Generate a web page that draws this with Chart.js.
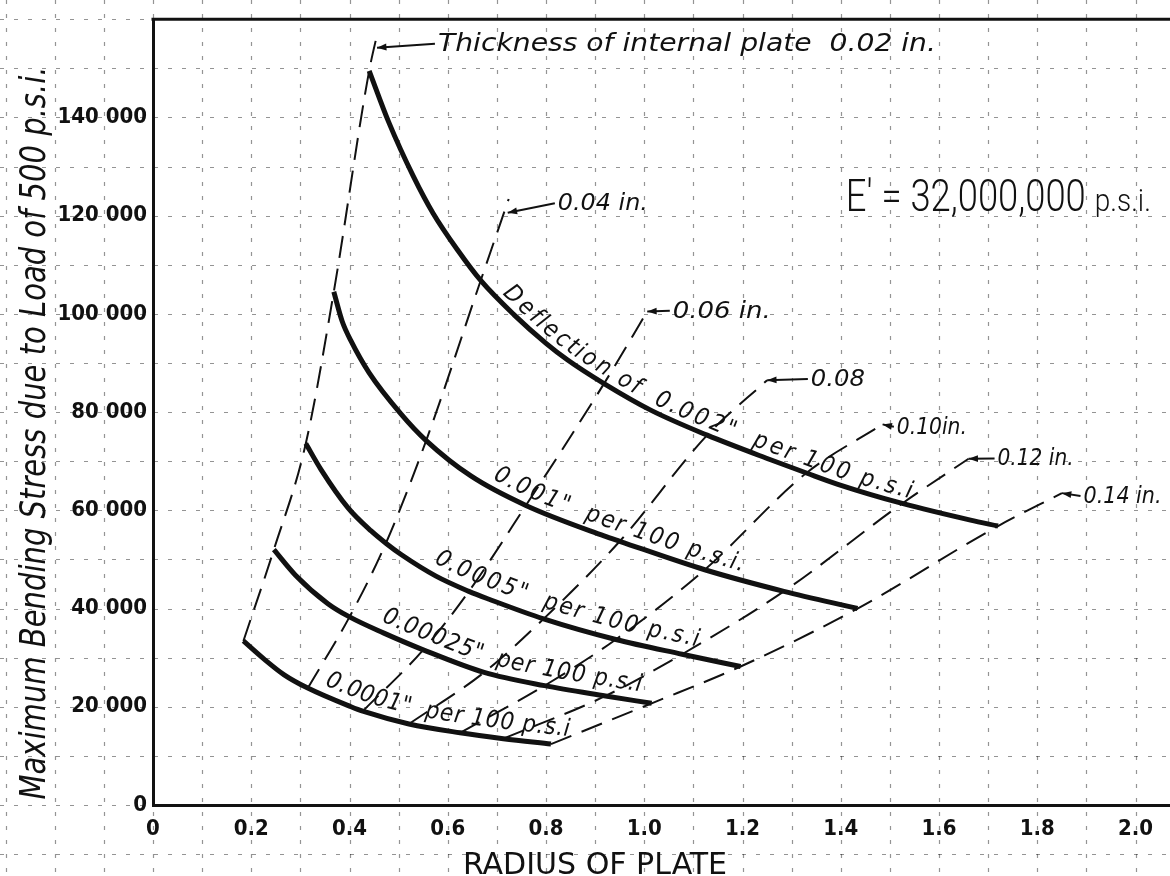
<!DOCTYPE html>
<html>
<head>
<meta charset="utf-8">
<script src="https://cdn.jsdelivr.net/npm/chart.js@4.4.0/dist/chart.umd.min.js"></script>
<style>
    html, body { margin: 0; padding: 0; background: #fff; }
    #wrap { width: 1170px; height: 876px; }
</style>
</head>
<body>
<div id="wrap"><canvas id="stressChart" width="1170" height="876"></canvas></div>
<script>
// axis ticks
var xTicks = [0, 0.2, 0.4, 0.6, 0.8, 1.0, 1.2, 1.4, 1.6, 1.8, 2.0];
var xTickLabels = ['0', '0.2', '0.4', '0.6', '0.8', '1.0', '1.2', '1.4', '1.6', '1.8', '2.0'];
var yTicks = [0, 20000, 40000, 60000, 80000, 100000, 120000, 140000];
var yTickLabels = ['0', '20 000', '40 000', '60 000', '80 000', '100 000', '120 000', '140 000'];
var xMax = 2.07;
var yMax = 160000;

// curves of constant deflection: [radius of plate, max bending stress]
var defl002 = [[0.44, 149500], [0.48, 139000], [0.53, 128000], [0.57, 120500], [0.62, 113000], [0.667, 106800],
    [0.735, 99800], [0.80, 94000], [0.844, 90600], [0.918, 85800], [1.013, 80400], [1.128, 75300], [1.257, 70300],
    [1.33, 67600], [1.394, 65300], [1.525, 61400], [1.664, 58000], [1.72, 56800]];
var defl001 = [[0.368, 104500], [0.385, 98500], [0.403, 94500], [0.44, 88000], [0.505, 79600], [0.556, 74200],
    [0.647, 67000], [0.759, 61000], [0.918, 54800], [0.95, 53700], [1.123, 47900], [1.284, 43500], [1.434, 40000]];
var defl0005 = [[0.311, 73600], [0.342, 68300], [0.397, 60500], [0.444, 55800], [0.474, 53300], [0.505, 51000],
    [0.576, 46600], [0.643, 43500], [0.684, 41900], [0.795, 37900], [0.942, 33700], [1.077, 30700], [1.196, 28200]];
var defl00025 = [[0.246, 52000], [0.29, 46800], [0.356, 41000], [0.40, 38300], [0.47, 35000], [0.55, 31600],
    [0.674, 27000], [0.797, 24300], [0.921, 22200], [1.015, 20700]];
var defl0001 = [[0.184, 33400], [0.225, 29800], [0.267, 26500], [0.315, 23800], [0.403, 20000], [0.427, 19100],
    [0.521, 16500], [0.625, 14700], [0.713, 13500], [0.81, 12400]];

// lines of constant plate thickness (last point = leader end above the top curve)
var thick002 = [[0.184, 33400], [0.246, 52000], [0.311, 73600], [0.368, 104500], [0.44, 149500], [0.458, 157700]];
var thick004 = [[0.315, 23800], [0.40, 38300], [0.474, 53300], [0.556, 74200], [0.667, 106800], [0.724, 123400]];
var thick006 = [[0.427, 19100], [0.55, 31600], [0.643, 43500], [0.759, 61000], [0.918, 85800], [1.006, 100500]];
var thick008 = [[0.521, 16500], [0.674, 27000], [0.795, 37900], [0.95, 53700], [1.128, 75300], [1.25, 86500]];
var thick010 = [[0.625, 14700], [0.797, 24300], [0.942, 33700], [1.123, 47900], [1.33, 67600], [1.485, 77500]];
var thick012 = [[0.713, 13500], [0.921, 22200], [1.077, 30700], [1.284, 43500], [1.525, 61400], [1.66, 70500]];
var thick014 = [[0.81, 12400], [1.015, 20700], [1.196, 28200], [1.434, 40000], [1.72, 56800], [1.85, 63500]];

var curveLabels = ['Deflection of  0.002"  per 100 p.s.i', '0.001"  per 100 p.s.i.', '0.0005"  per 100 p.s.i',
    '0.00025"  per 100 p.s.i', '0.0001"  per 100 p.s.i'];
var thickLabels = ['Thickness of internal plate  0.02 in.', '0.04 in.', '0.06 in.', '0.08', '0.10in.', '0.12 in.', '0.14 in.'];

// where the labels sit: curve text [from x, to x, gap above curve px]
var curveLabelPlace = [[0.698, 1.54, 7], [0.68, 1.196, 9], [0.558, 1.105, 11], [0.455, 0.99, 10], [0.34, 0.845, 10]];
// thickness labels [x, y baseline, width px, arrow x, arrow y]
var thickLabelPlace = [
    [0.58, 153600, 498, 0.456, 154200],
    [0.824, 121100, 90, 0.722, 120600],
    [1.058, 99200, 98, 1.006, 100500],
    [1.339, 85300, 54, 1.25, 86500],
    [1.514, 75600, 70, 1.485, 77500],
    [1.719, 69150, 76, 1.66, 70500],
    [1.894, 61500, 78, 1.85, 63500]
];

var LETTER = '"DejaVu Sans Condensed", "DejaVu Sans", sans-serif';
var NARROW = '"Liberation Sans Narrow", "DejaVu Sans Condensed", sans-serif';

function toXY(arr) {
    return arr.map(function(p) { return {x: p[0], y: p[1]}; });
}

var curves = [defl002, defl001, defl0005, defl00025, defl0001];
var thicks = [thick002, thick004, thick006, thick008, thick010, thick012, thick014];

var datasets = [];
curves.forEach(function(c, i) {
    datasets.push({
        label: curveLabels[i],
        data: toXY(c),
        borderColor: '#111',
        borderWidth: 5,
        pointRadius: 0,
        cubicInterpolationMode: 'monotone',
        fill: false,
        order: 1
    });
});
thicks.forEach(function(t, i) {
    datasets.push({
        label: thickLabels[i],
        data: toXY(t),
        borderColor: '#111',
        borderWidth: 2,
        borderDash: [22, 11],
        pointRadius: 0,
        cubicInterpolationMode: 'monotone',
        fill: false,
        order: 2
    });
});

// sample the drawn bezier of a dataset into a dense polyline
function buildPath(meta) {
    var pts = meta.data, out = [];
    for (var i = 0; i < pts.length - 1; i++) {
        var a = pts[i], b = pts[i + 1];
        var c1x = isFinite(a.cp2x) ? a.cp2x : a.x, c1y = isFinite(a.cp2y) ? a.cp2y : a.y;
        var c2x = isFinite(b.cp1x) ? b.cp1x : b.x, c2y = isFinite(b.cp1y) ? b.cp1y : b.y;
        for (var k = 0; k < 24; k++) {
            var t = k / 24, u = 1 - t;
            out.push({
                x: u * u * u * a.x + 3 * u * u * t * c1x + 3 * u * t * t * c2x + t * t * t * b.x,
                y: u * u * u * a.y + 3 * u * u * t * c1y + 3 * u * t * t * c2y + t * t * t * b.y
            });
        }
    }
    var last = pts[pts.length - 1];
    out.push({x: last.x, y: last.y});
    var s = [0];
    for (var j = 1; j < out.length; j++) {
        s.push(s[j - 1] + Math.hypot(out[j].x - out[j - 1].x, out[j].y - out[j - 1].y));
    }
    return {p: out, s: s};
}

function pointAt(path, d) {
    var p = path.p, s = path.s, n = p.length, i = 0;
    if (d >= s[n - 1]) i = n - 2;
    else if (d > 0) { while (s[i + 1] < d) i++; }
    var a = p[i], b = p[i + 1], len = (s[i + 1] - s[i]) || 1;
    var t = (d - s[i]) / len;
    return {x: a.x + (b.x - a.x) * t, y: a.y + (b.y - a.y) * t, ang: Math.atan2(b.y - a.y, b.x - a.x)};
}

function distAtX(path, px) {
    var p = path.p, s = path.s, n = p.length - 1;
    for (var i = 0; i < n; i++) {
        if (p[i + 1].x >= px) {
            var t = (px - p[i].x) / ((p[i + 1].x - p[i].x) || 1);
            return s[i] + t * (s[i + 1] - s[i]);
        }
    }
    var a = p[n - 1], b = p[n];
    return s[n] + (px - b.x) * Math.hypot(b.x - a.x, b.y - a.y) / ((b.x - a.x) || 1);
}

function drawAlong(ctx, path, text, d0, d1, gap) {
    var total = ctx.measureText(text).width;
    var k = (d1 - d0) / total, acc = 0;
    for (var i = 0; i < text.length; i++) {
        var ch = text[i], w = ctx.measureText(ch).width;
        var q = pointAt(path, d0 + (acc + w / 2) * k);
        var nx = Math.sin(q.ang), ny = -Math.cos(q.ang);
        ctx.save();
        ctx.translate(q.x + nx * gap, q.y + ny * gap);
        ctx.rotate(q.ang);
        ctx.fillText(ch, 0, 0);
        ctx.restore();
        acc += w;
    }
}

function fitText(ctx, text, x, y, width) {
    var w = ctx.measureText(text).width;
    ctx.save();
    ctx.translate(x, y);
    ctx.scale(width / w, 1);
    ctx.fillText(text, 0, 0);
    ctx.restore();
}

function arrow(ctx, x0, y0, x1, y1) {
    ctx.beginPath();
    ctx.moveTo(x0, y0);
    ctx.lineTo(x1, y1);
    ctx.stroke();
    var a = Math.atan2(y1 - y0, x1 - x0);
    ctx.beginPath();
    ctx.moveTo(x1, y1);
    ctx.lineTo(x1 - 10 * Math.cos(a - 0.35), y1 - 10 * Math.sin(a - 0.35));
    ctx.lineTo(x1 - 10 * Math.cos(a + 0.35), y1 - 10 * Math.sin(a + 0.35));
    ctx.closePath();
    ctx.fill();
}

// graph paper grid, running past the axes like the printed sheet
var paperGrid = {
    id: 'paperGrid',
    beforeDraw: function(chart) {
        var ctx = chart.ctx, xs = chart.scales.x, ys = chart.scales.y;
        ctx.save();
        ctx.fillStyle = '#fff';
        ctx.fillRect(0, 0, chart.width, chart.height);
        ctx.strokeStyle = 'rgba(0,0,0,0.42)';
        ctx.lineWidth = 1.2;
        ctx.setLineDash([4, 10]);
        for (var i = -4; i <= 21; i++) {
            var px = Math.round(xs.getPixelForValue(i / 10)) + 0.5;
            if (px < 0 || px > chart.width) continue;
            ctx.beginPath(); ctx.moveTo(px, 0); ctx.lineTo(px, chart.height); ctx.stroke();
        }
        for (var j = -8; j <= 16; j++) {
            var py = Math.round(ys.getPixelForValue(j * 10000)) + 0.5;
            if (py < 0 || py > chart.height) continue;
            ctx.beginPath(); ctx.moveTo(0, py); ctx.lineTo(chart.width, py); ctx.stroke();
        }
        ctx.restore();
    }
};

var annotations = {
    id: 'annotations',
    afterDatasetsDraw: function(chart) {
        var ctx = chart.ctx, xs = chart.scales.x, ys = chart.scales.y, area = chart.chartArea;
        ctx.save();
        ctx.fillStyle = '#111';
        ctx.strokeStyle = '#111';

        // top border of the plot
        ctx.lineWidth = 3;
        ctx.beginPath();
        ctx.moveTo(area.left - 1.5, area.top);
        ctx.lineTo(chart.width, area.top);
        ctx.stroke();

        // labels riding on the deflection curves
        ctx.font = 'italic 24px ' + LETTER;
        ctx.textAlign = 'center';
        ctx.textBaseline = 'alphabetic';
        curves.forEach(function(c, i) {
            var path = buildPath(chart.getDatasetMeta(i));
            var pl = curveLabelPlace[i];
            var d0 = distAtX(path, xs.getPixelForValue(pl[0]));
            var d1 = distAtX(path, xs.getPixelForValue(pl[1]));
            drawAlong(ctx, path, curveLabels[i], d0, d1, pl[2]);
        });

        // thickness labels with leader arrows
        ctx.textAlign = 'left';
        ctx.lineWidth = 2;
        thickLabelPlace.forEach(function(pl, i) {
            ctx.font = (i === 0 ? 'italic 25px ' : 'italic 23px ') + LETTER;
            var tx = xs.getPixelForValue(pl[0]), ty = ys.getPixelForValue(pl[1]);
            fitText(ctx, thickLabels[i], tx, ty, pl[2]);
            arrow(ctx, tx - 3, ty - 7, xs.getPixelForValue(pl[3]), ys.getPixelForValue(pl[4]));
        });

        // modulus note
        var ex = xs.getPixelForValue(1.41), ey = ys.getPixelForValue(121000);
        ctx.font = '300 45px Roboto, ' + NARROW;
        fitText(ctx, "E' = 32,000,000", ex, ey, 240);
        ctx.font = '300 31px Roboto, ' + NARROW;
        fitText(ctx, 'p.s.i.', xs.getPixelForValue(1.917), ey, 56);

        // axis titles
        ctx.font = 'italic 35px ' + LETTER;
        ctx.save();
        ctx.translate(45, 433);
        ctx.rotate(-Math.PI / 2);
        var title = 'Maximum Bending Stress due to Load of 500 p.s.i.';
        var tw = ctx.measureText(title).width;
        ctx.scale(733 / tw, 1);
        ctx.fillText(title, -tw / 2, 0);
        ctx.restore();

        ctx.font = '30px ' + NARROW;
        fitText(ctx, 'RADIUS OF PLATE', 463, 874, 264);
        ctx.restore();
    }
};

var ctx = document.getElementById('stressChart').getContext('2d');
var stressChart = new Chart(ctx, {
    type: 'line',
    data: { datasets: datasets },
    options: {
        responsive: false,
        animation: false,
        devicePixelRatio: 1,
        events: [],
        layout: { padding: { top: 13, right: 0, bottom: 0, left: 0 } },
        plugins: {
            legend: { display: false },
            tooltip: { enabled: false }
        },
        scales: {
            x: {
                type: 'linear',
                min: 0,
                max: xMax,
                afterBuildTicks: function(scale) {
                    scale.ticks = xTicks.map(function(v) { return {value: v}; });
                },
                afterFit: function(scale) { scale.height = 71; },
                grid: { display: false, drawTicks: false },
                border: { display: true, color: '#111', width: 3 },
                ticks: {
                    autoSkip: false,
                    maxRotation: 0,
                    padding: 11,
                    color: '#111',
                    font: { family: LETTER, size: 22, weight: 'bold' },
                    callback: function(value, index) { return xTickLabels[index]; }
                }
            },
            y: {
                type: 'linear',
                min: 0,
                max: yMax,
                afterBuildTicks: function(scale) {
                    scale.ticks = yTicks.map(function(v) { return {value: v}; });
                },
                afterFit: function(scale) { scale.width = 153; },
                grid: { display: false, drawTicks: false },
                border: { display: true, color: '#111', width: 3 },
                ticks: {
                    padding: 6,
                    color: '#111',
                    font: { family: LETTER, size: 22, weight: 'bold' },
                    callback: function(value, index) { return yTickLabels[index]; }
                }
            }
        }
    },
    plugins: [paperGrid, annotations]
});
</script>
</body>
</html>
